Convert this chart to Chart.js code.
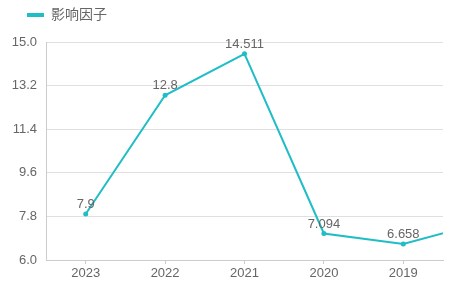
<!DOCTYPE html>
<html>
<head>
<meta charset="utf-8">
<script src="https://cdn.jsdelivr.net/npm/chart.js@4"></script>
<style>
  html, body { margin: 0; padding: 0; background: #fff; }
  #wrap { width: 463px; height: 283px; }
</style>
</head>
<body>
<div id="wrap"><canvas id="impact-chart"></canvas></div>
<script>
// data; the last year runs past the right edge
var years = ['2023', '2022', '2021', '2020', '2019', '2018'];
var impactFactor = [7.9, 12.8, 14.511, 7.094, 6.658, 7.55];
var yTicks = [6.0, 7.8, 9.6, 11.4, 13.2, 15.0];
var visibleYears = 5;
var seriesName = '影响因子';

var lineColor = '#1fbdc6';
var fontFamily = '"Liberation Sans", Arial, "Noto Sans CJK SC", sans-serif';

// value labels above each visible point
var valueLabels = {
    id: 'valueLabels',
    afterDatasetsDraw: function(chart) {
        var ctx = chart.ctx;
        var meta = chart.getDatasetMeta(0);
        var area = chart.chartArea;
        ctx.save();
        ctx.font = '13px ' + fontFamily;
        ctx.fillStyle = '#666';
        ctx.textAlign = 'center';
        ctx.textBaseline = 'bottom';
        meta.data.forEach(function(pt, i) {
            if (pt.x < area.left || pt.x > area.right) return;
            ctx.fillText(String(impactFactor[i]), pt.x, pt.y - 3);
        });
        ctx.restore();
    }
};

// nudge the legend right and leave a bit more room under it
var legendShift = {
    id: 'legendShift',
    beforeLayout: function(chart) {
        var lg = chart.legend;
        if (lg && !lg._patched) {
            var fit = lg.fit;
            lg.fit = function() {
                fit.apply(this, arguments);
                this.height += 10;
            };
            lg._patched = true;
        }
    },
    afterLayout: function(chart) {
        chart.legend.left += 19;
        chart.legend.right += 19;
    }
};

var ctx = document.getElementById('impact-chart').getContext('2d');
var chart = new Chart(ctx, {
    type: 'line',
    data: {
        datasets: [{
            label: seriesName,
            data: impactFactor.map(function(v, i) { return { x: i, y: v }; }),
            borderColor: lineColor,
            backgroundColor: lineColor,
            borderWidth: 2,
            pointRadius: 2.5,
            pointBorderWidth: 0,
            pointBackgroundColor: lineColor,
            tension: 0
        }]
    },
    options: {
        responsive: true,
        maintainAspectRatio: false,
        animation: false,
        layout: { padding: { left: 0, right: 20, top: 0, bottom: 0 } },
        plugins: {
            tooltip: { enabled: false },
            legend: {
                display: true,
                position: 'top',
                align: 'start',
                labels: {
                    boxWidth: 17,
                    boxHeight: 4,
                    padding: 8,
                    color: '#666',
                    font: { size: 14, family: fontFamily },
                    generateLabels: function(chart) {
                        return Chart.defaults.plugins.legend.labels.generateLabels(chart).map(function(item) {
                            item.lineWidth = 0;
                            item.fillStyle = lineColor;
                            return item;
                        });
                    }
                }
            }
        },
        scales: {
            x: {
                type: 'linear',
                min: -0.5,
                max: visibleYears - 0.5,
                afterBuildTicks: function(scale) {
                    scale.ticks = years.slice(0, visibleYears).map(function(y, i) { return { value: i }; });
                },
                grid: {
                    drawOnChartArea: false,
                    drawTicks: true,
                    tickLength: 4,
                    color: '#ccc'
                },
                border: { display: true, color: '#ccc' },
                ticks: {
                    color: '#666',
                    padding: 2,
                    font: { size: 13, family: fontFamily },
                    maxRotation: 0,
                    callback: function(v) { return years[v]; }
                },
                afterFit: function(scale) { scale.height = 23; }
            },
            y: {
                min: yTicks[0],
                max: yTicks[yTicks.length - 1],
                afterBuildTicks: function(scale) {
                    scale.ticks = yTicks.map(function(v) { return { value: v }; });
                },
                grid: { color: '#e0e0e0', drawTicks: false },
                border: { display: true, color: '#ccc' },
                ticks: {
                    color: '#666',
                    padding: 9,
                    font: { size: 13, family: fontFamily },
                    callback: function(v) { return Number(v).toFixed(1); }
                },
                afterFit: function(scale) { scale.width = 46; }
            }
        }
    },
    plugins: [valueLabels, legendShift]
});
</script>
</body>
</html>
